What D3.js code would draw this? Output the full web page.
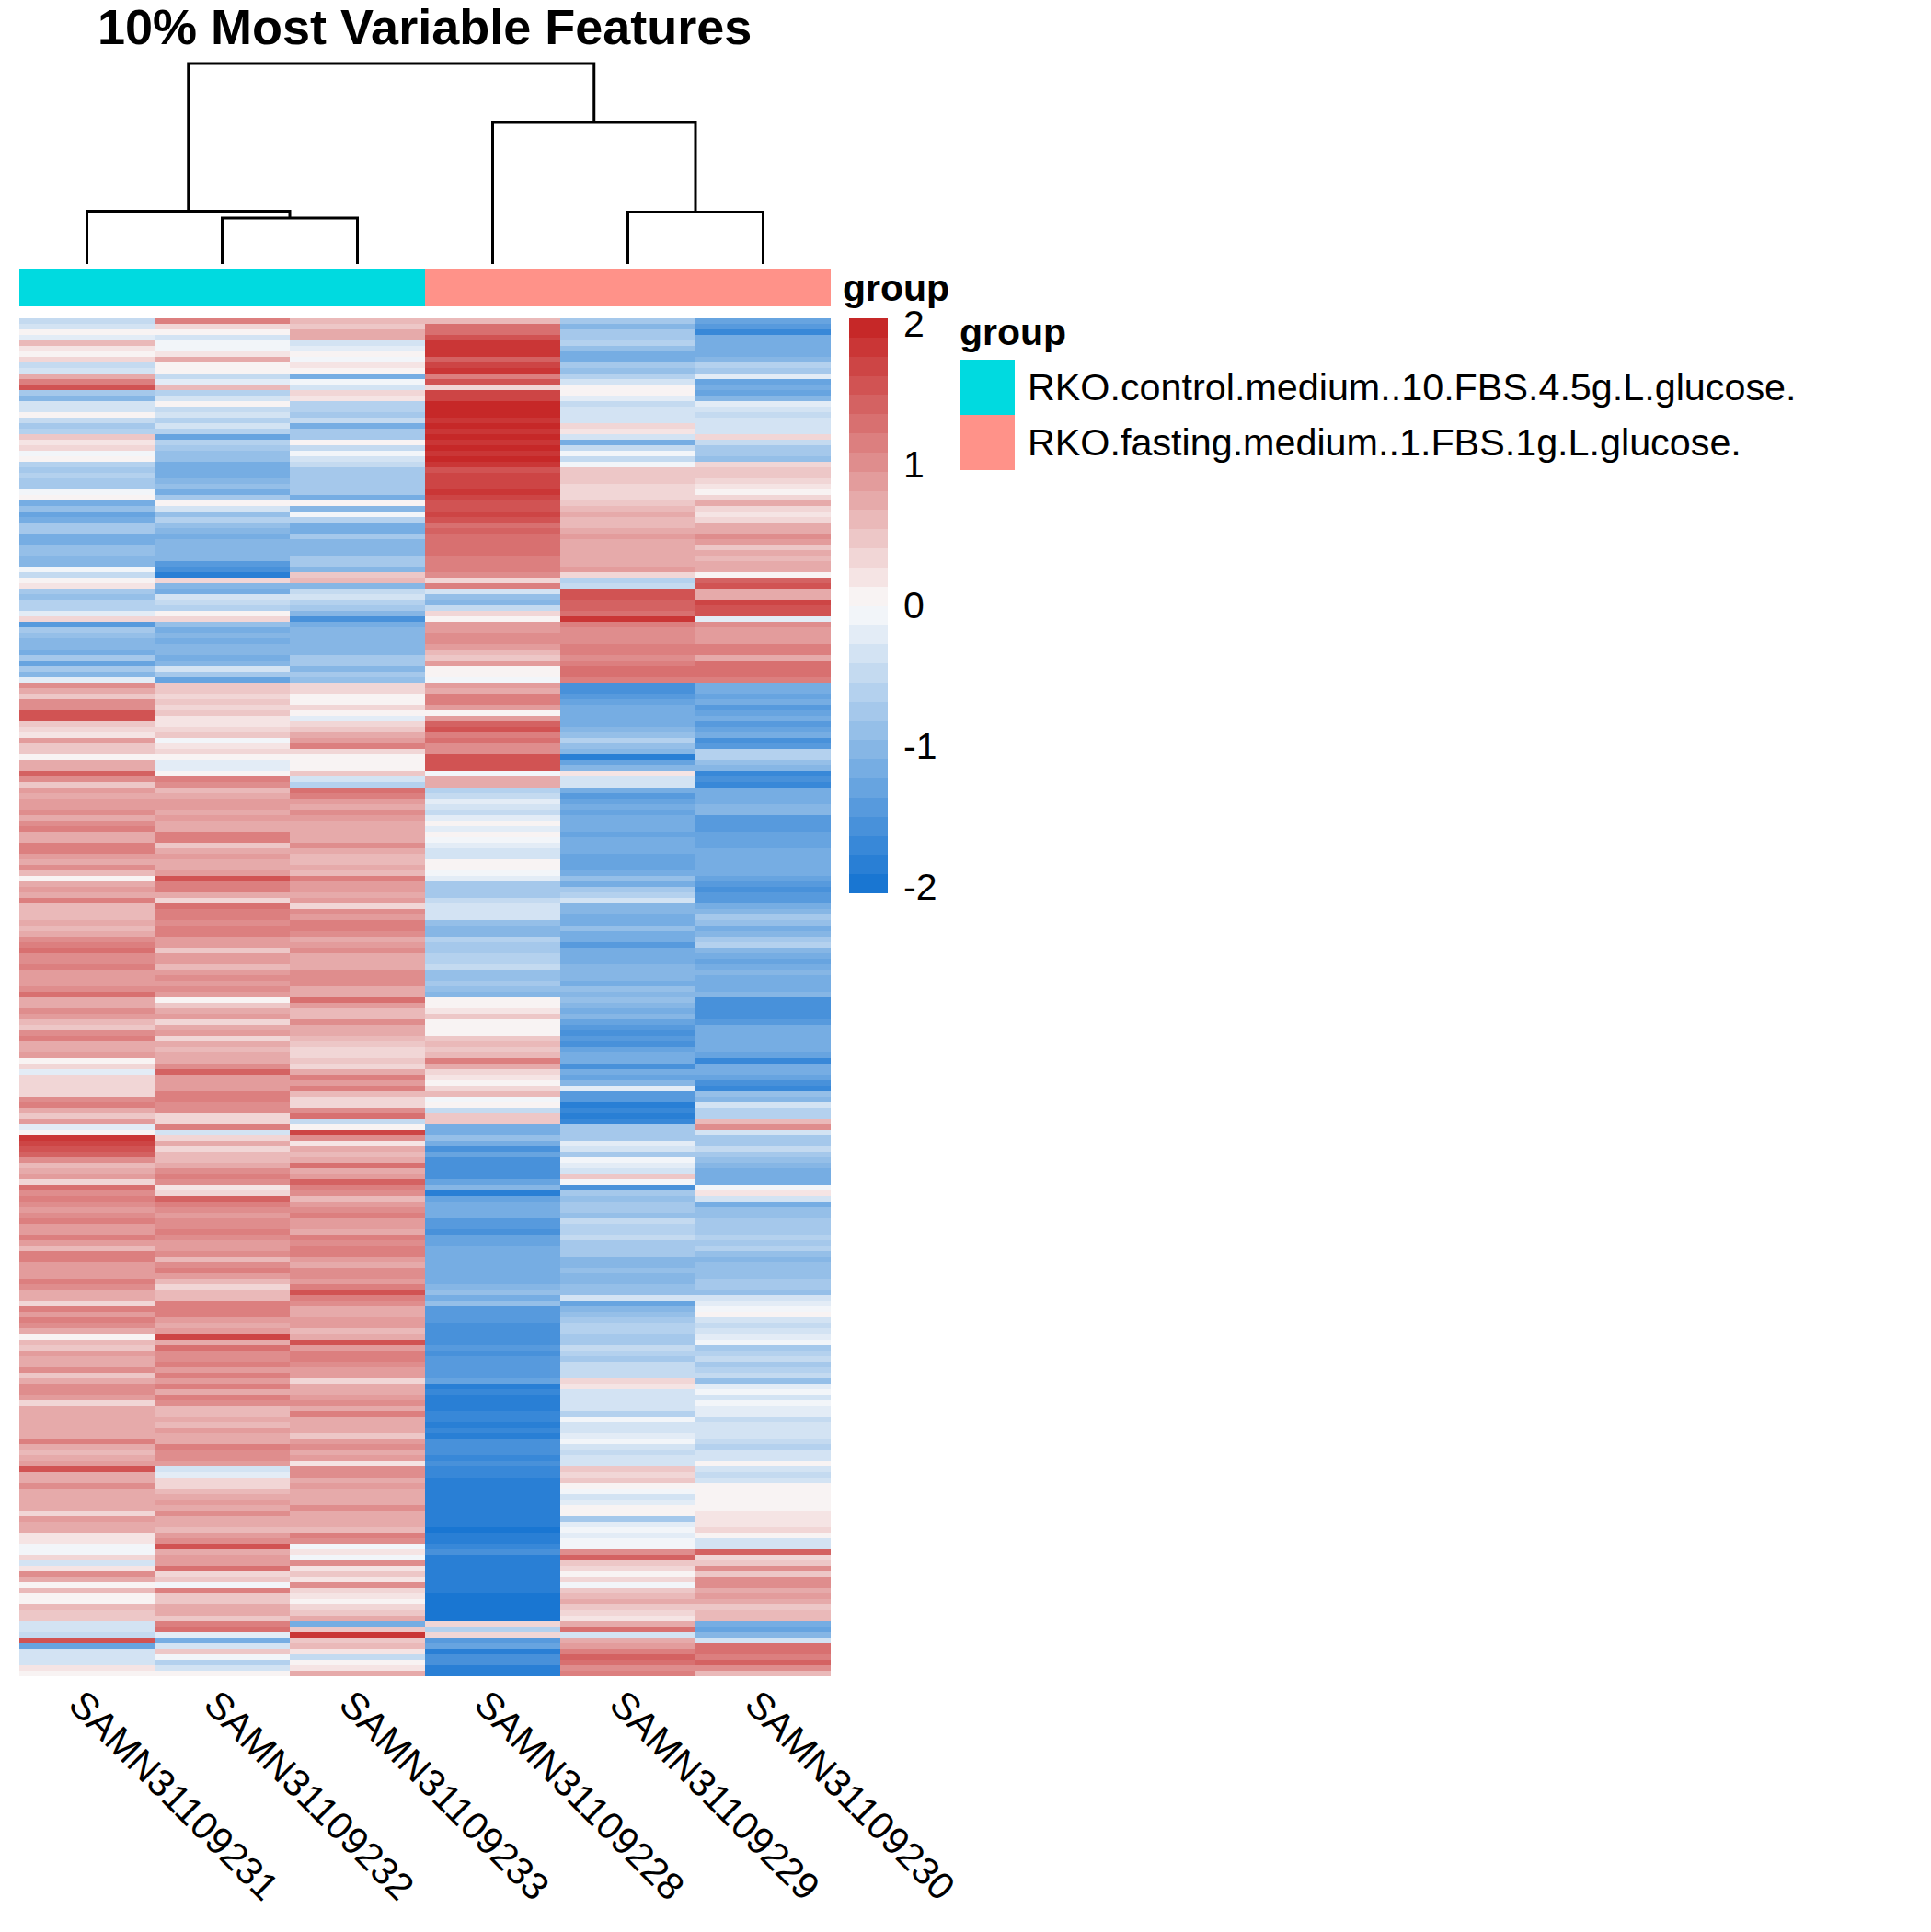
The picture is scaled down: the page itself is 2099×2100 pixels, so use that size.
<!DOCTYPE html>
<html>
<head>
<meta charset="utf-8">
<script src="https://cdn.jsdelivr.net/npm/d3@7"></script>
<style>
  body { margin: 0; background: #fff; }
  text { font-family: "Liberation Sans", Arial, sans-serif; fill: #000; }
</style>
</head>
<body>
<svg id="chart" width="2099" height="2100"></svg>
<script>
const sampleNames = ["SAMN31109231","SAMN31109232","SAMN31109233","SAMN31109228","SAMN31109229","SAMN31109230"];
const sampleGroups = [0,0,0,1,1,1];
const groupNames = ["RKO.control.medium..10.FBS.4.5g.L.glucose.","RKO.fasting.medium..1.FBS.1g.L.glucose."];
const groupColors = ["#00DAE0","#FF9289"];
const legendTicks = [-2,-1,0,1,2];
const colorStops = ["#1976D2","#FAFAFA","#C62828"];

// heights of the merges
const dendro = {h:218, children:[
  {h:57.5, children:[{leaf:0},{h:50, children:[{leaf:1},{leaf:2}]}]},
  {h:154, children:[{leaf:3},{h:56.5, children:[{leaf:4},{leaf:5}]}]}
]};

// one array per sample, top row to bottom row
const s231 = [
-0.5,-0.3,0,-0.2,0.6,0.2,0.1,0.3,-0.5,-0.3,
0.7,1.2,1.6,-0.8,-1.0,-0.4,-0.4,0.1,-0.5,-0.7,
-0.6,0.5,0.2,0.4,-0.1,0.1,-0.6,-0.7,-0.6,-0.7,
-0.8,-0.1,0.1,-1.1,-0.9,-1.3,-1.2,-0.8,-0.8,-1.2,
-1.1,-0.9,-0.9,-1.0,-1.0,-0.1,-0.5,0.1,0.2,-0.8,
-0.9,-0.6,-0.6,-0.2,0.3,-1.4,-0.8,-0.9,-1.0,-1.0,
-1.1,-0.8,-1.3,-0.8,-1.0,-0.2,1.0,0.7,0.5,
1.0,1.0,1.5,1.5,0.5,0.4,0.2,0.9,0.5,0.5,
0.1,0.7,0.8,1.4,1.0,0.5,0.9,0.8,0.9,0.9,
1.0,0.8,1.0,1.1,0.7,0.7,1.2,1.1,0.9,0.7,
1.0,0.6,0.1,0.8,0.9,
0.8,1.2,0.6,0.6,0.6,0.8,0.6,0.7,1.0,1.1,
1.3,1.0,1.0,1.1,0.9,0.9,0.9,1.0,1.3,0.7,
0.8,1.0,0.9,0.6,0.5,1.0,1.1,0.7,0.7,0.9,
0.1,0.4,-0.2,0.3,0.4,
0.3,0.3,1.0,1.1,0.7,0.5,0.9,-0.2,0,1.8,
1.7,1.5,1.4,1.0,0.6,0.7,0.9,0.4,1.3,1.0,
1.1,1.0,0.9,1.0,1.1,0.9,0.9,1.1,0.9,0.6,
1.1,1.2,0.9,0.9,0.9,
1.2,1.0,0.7,0.7,0.4,1.1,0.9,1.1,1.0,0.8,
0.1,0.6,0.5,0.9,0.7,0.7,1.0,0.5,0.8,1.0,
1.0,0.9,0.4,0.7,0.7,0.7,0.8,0.8,0.8,1.2,
0.8,0.6,0.7,0.9,1.6,
0.8,0.7,1.0,0.7,0.7,0.7,0.7,0.3,0.9,0.7,
0.7,0.2,0.2,-0.1,-0.1,0.3,-0.4,0.2,1.0,0.7,
0,0.6,0.1,0.1,0.6,0.5,0.5,-0.4,-0.3,-0.5,
1.5,-1.3,-0.4,-0.3,-0.3,0.2,0.1];
const s232 = [
1.2,0.4,0.1,-0.3,-0.1,-0.1,0.2,0.7,0.1,0.1,
-0.5,-0.2,0.6,-0.6,-0.3,0.1,-0.5,-0.4,-0.6,-0.3,
-0.6,-1.3,-0.6,-0.8,-0.9,-0.9,-1.1,-1.2,-1.2,-1.0,
-0.9,-1.2,-0.8,0.1,-0.3,-0.9,-0.6,-0.9,-1.0,-1.1,
-1.0,-1.0,-1.0,-1.0,-1.4,-1.5,-1.9,0.3,-1.0,-1.2,
-0.3,-0.5,-0.6,0.1,0.4,-0.9,-1.1,-1.0,-1.1,-1.0,
-1.0,-1.1,-1.0,-0.4,-0.7,-1.3,0.5,0.5,0.3,
0.5,0.3,0.5,0.2,0.2,0.3,0.5,-0.1,0.2,0.4,
0.1,-0.2,-0.2,0.1,1.2,1.0,0.6,0.8,0.9,0.9,
0.8,0.9,0.8,0.8,1.2,1.1,0.5,0.8,0.9,0.8,
0.8,0.9,1.5,1.2,1.1,
0.7,0.4,1.3,1.1,1.1,1.0,1.1,1.2,0.9,0.9,
0.5,0.9,0.9,0.6,0.9,1.0,0.9,1.0,0.9,0,
0.5,0.8,0.9,0.4,0.7,0.9,0.4,0.7,0.6,0.8,
0.8,1.0,1.4,0.9,0.9,
0.9,1.2,1.1,1.0,1.0,0.3,0.4,1.1,-0.4,0.3,
0.8,0.4,0.6,0.6,0.7,1.0,1.1,1.0,0.2,0.4,
1.4,1.1,1.0,0.9,1.0,1.0,1.1,1.0,0.9,0.9,
1.0,0.6,1.0,1.1,0.9,
0.6,0.4,0.6,0.6,1.1,1.1,1.2,0.9,0.7,0.9,
1.7,0.8,1.3,1.0,1.0,1.1,0.9,1.2,0.9,1.2,
0.8,1.1,1.0,0.6,0.6,0.8,0.6,0.9,0.7,0.8,
1.1,1.0,1.0,0.9,-0.3,
-0.2,0.3,0.4,0.6,0.8,0.9,0.7,1.0,0.7,0.7,
0.6,0.9,1.0,1.6,0.7,0.9,0.9,1.3,0.4,0.5,
-0.1,1.1,0.5,0.5,0.7,0.8,0.5,1.2,1.3,-0.2,
-1.2,-0.3,0.5,-0.1,-0.6,-0.3,0];
const s233 = [
0.6,0.5,0.8,0.8,-0.3,-0.2,0.1,-0.1,0.2,0,
-1.2,-0.1,-0.4,0.3,0.2,-0.6,-0.6,-0.8,-0.5,-1.2,
-0.8,-0.7,0.1,-0.5,-0.1,-0.3,-0.5,-0.8,-0.8,-0.7,
-0.8,-0.8,-1.2,0,-1.0,-0.1,-0.6,-1.2,-1.2,-0.8,
-1.0,-1.0,-1.0,-0.8,-0.7,-1.0,0.5,0.6,-1.0,-0.5,
-0.3,-0.6,-0.7,-1.0,-1.6,-1.1,-1.0,-1.0,-1.0,-1.0,
-1.0,-0.7,-0.7,-1.0,-0.8,-0.9,0.4,0.3,0.1,
0.1,0.4,0.1,-0.2,0.4,0.5,0.7,0.9,1.1,0.3,
0.1,0.1,0.1,0.5,-0.4,-0.6,1.3,1.2,0.9,0.8,
1.0,0.9,0.8,0.7,0.8,0.8,1.0,0.7,0.6,0.6,
0.8,0.6,1.2,0.9,0.9,
0.8,0.9,0.3,1.0,0.9,1.1,1.1,1.0,0.7,0.9,
1.0,0.7,0.8,0.8,1.0,1.0,1.0,0.7,0.7,1.3,
0.9,0.6,0.6,1.0,0.8,0.7,0.6,0.5,0.4,0.3,
0.5,0.3,0.7,1.1,0.9,
1.2,0.6,0.4,0.4,1.0,1.3,-0.5,0.1,1.7,1.0,
0.2,0.8,0.6,0.7,1.3,0.7,0.9,1.4,1.2,1.0,
0.6,0.9,1.0,1.1,0.9,0.9,0.8,1.1,1.0,1.2,
1.2,0.9,0.8,1.0,1.0,
0.9,1.2,1.6,1.1,1.0,0.7,0.8,0.9,0.9,0.6,
0.7,1.5,0.9,1.1,1.1,1.0,0.9,0.9,0.3,0.7,
0.7,0.9,1.0,0.8,1.1,0.7,0.8,0.8,0.5,0.9,
1.0,0.8,0.9,0.2,1.0,
1.0,0.8,0.9,0.7,0.7,0.7,1.0,0.8,0.7,0.8,
0.6,1.2,1.0,-0.1,0.2,-0.1,1.0,0.2,0.5,0.2,
1.0,0.4,0.2,0.1,0.4,0.5,0.7,-1.2,0.5,1.8,
0.5,0.6,0.2,-0.5,0,0.2,0.7];
const s228 = [
0.6,1.3,1.3,1.6,1.8,1.9,1.8,1.4,1.7,1.8,
1.2,1.6,0.4,1.7,1.7,2.0,2.0,2.0,1.9,2.0,
1.9,2.0,1.9,2.0,1.9,2.0,1.9,1.6,1.7,1.7,
1.7,1.9,1.7,1.6,1.6,1.7,1.5,1.3,1.4,1.3,
1.3,1.3,1.3,1.2,1.2,1.1,1.0,0.3,1.2,-0.3,
-0.9,-1.0,-0.5,0.3,0.1,0.9,0.9,1.0,1.0,0.9,
0.6,0.5,0.9,0.1,0,-0.1,0.9,0.8,1.1,
1.2,0.9,0.1,0.9,1.4,1.6,1.2,1.3,1.0,1.0,
1.6,1.5,1.6,-0.1,0.8,0.8,-0.6,-0.5,-0.2,-0.4,
-0.5,-0.2,0,-0.2,0,-0.1,-0.2,-0.4,-0.3,0.1,
0.1,-0.1,-0.2,-0.7,-0.8,
-0.8,-0.5,-0.4,-0.4,-0.4,-0.9,-1.0,-1.0,-0.6,-0.7,
-0.7,-0.6,-0.6,-0.5,-0.9,-0.9,-0.8,-0.9,-1.0,0.1,
0.1,0.2,0.5,0.1,0.1,0,0.5,0.6,0.5,0.6,
1.1,0.7,0.4,0.2,0.1,
0.3,0.6,-0.1,0,-0.5,0.5,0.5,-1.1,-1.1,-0.9,
-1.2,-1.5,-1.3,-1.5,-1.5,-1.5,-1.5,-1.3,-1.0,-1.8,
-1.3,-1.1,-1.2,-1.1,-1.4,-1.4,-1.5,-1.3,-1.3,-1.2,
-1.2,-1.2,-1.2,-1.2,-1.1,
-1.1,-1.0,-0.9,-1.1,-0.9,-1.4,-1.4,-1.4,-1.6,-1.5,
-1.5,-1.6,-1.4,-1.5,-1.4,-1.4,-1.4,-1.4,-1.3,-1.8,
-1.7,-1.8,-1.8,-1.8,-1.7,-1.7,-1.8,-1.7,-1.8,-1.6,
-1.5,-1.6,-1.7,-1.6,-1.7,
-1.7,-1.9,-1.9,-1.8,-1.8,-1.9,-1.8,-1.9,-1.8,-1.9,
-2.0,-1.8,-1.8,-1.7,-1.6,-1.9,-1.8,-1.9,-1.9,-1.9,
-1.9,-1.9,-2.0,-2.0,-2.0,-2.0,-2.0,0.3,-0.6,0.3,
-1.4,-1.3,-1.8,-1.5,-1.5,-1.9,-1.9];
const s229 = [
-0.8,-1.0,-0.7,-0.7,-0.6,-0.9,-1.1,-1.1,-0.8,-0.9,
-0.6,-0.4,0.1,0.1,-0.2,-0.5,-0.4,-0.3,-0.3,0.3,
0.2,-0.4,-1.1,-0.5,-0.1,-0.5,-0.1,0.5,0.5,0.5,
0.4,0.4,0.3,0.5,0.6,0.7,0.6,0.6,0.8,0.9,
0.8,0.7,0.7,0.8,0.8,0.9,0.3,-0.6,-0.5,1.6,
1.6,1.4,1.4,1.3,1.8,1.1,1.0,1.0,1.0,1.2,
1.1,1.0,1.2,1.3,1.3,1.1,-1.5,-1.6,-1.4,
-1.3,-1.1,-1.2,-1.2,-1.1,-1.0,-0.9,-0.6,-0.9,-1.0,
-1.8,-1.3,-1.0,0.2,-0.4,-0.4,-1.2,-1.4,-1.3,-1.2,
-1.3,-1.2,-1.1,-1.2,-1.3,-1.1,-1.2,-1.1,-1.3,-1.3,
-1.3,-1.1,-0.9,-1.1,-0.7,
-0.6,-0.3,-1.0,-1.0,-1.2,-1.2,-0.9,-1.1,-1.1,-1.4,
-1.2,-1.1,-1.1,-1.0,-1.0,-1.0,-1.1,-0.9,-1.0,-0.9,
-1.0,-1.1,-1.0,-1.3,-1.4,-1.5,-1.4,-1.5,-1.3,-1.2,
-1.1,-1.5,-1.2,-1.3,-1.0,
-0.2,-1.4,-1.4,-1.8,-1.7,-1.9,-1.7,-0.7,-0.8,-0.8,
-0.2,-0.3,-0.7,-0.1,-0.2,-0.3,0.5,-0.1,-1.5,-0.8,
-0.9,-0.7,-0.7,-0.9,-0.5,-0.6,-0.6,-0.5,-0.8,-0.8,
-0.8,-1.0,-1.0,-0.9,-1.0,
-1.0,-0.9,-0.9,-0.4,-1.3,-1.0,-0.9,-0.7,-0.6,-0.6,
-0.8,-0.7,-0.5,-0.6,-0.7,-0.5,-0.5,-0.5,0.3,0.2,
-0.4,-0.4,-0.3,-0.3,-0.6,-0.1,-0.3,-0.3,-0.2,-0.1,
-0.4,-0.5,-0.4,-0.4,0.5,
0.3,0.5,0.1,-0.1,-0.3,-0.2,0,0,-0.7,-0.2,
-0.1,-0.2,-0.1,-0.1,1.0,1.4,0.5,0.4,0,0.4,
-0.1,0.5,0.6,0.7,0.5,0.4,0.2,0.7,1.3,-0.3,
0.7,0.9,1.2,1.4,1.3,1.0,1.1];
const s230 = [
-1.3,-1.4,-1.7,-1.1,-1.1,-1.1,-1.1,-1.0,-0.6,-0.8,
-0.2,-1.3,-1.2,-1.3,-1.0,-0.2,-0.4,-0.5,-0.4,-0.4,
-0.3,0.3,-0.5,-0.7,-0.8,-0.9,0.3,0.5,0.5,0.3,
0.2,0,0.3,0.7,0.3,0.2,0.3,0.7,0.7,1.0,
0.9,0.5,0.8,0.6,0.8,0.8,0.1,1.4,1.6,0.7,
0.7,1.7,1.5,1.5,-0.2,1.0,0.9,0.9,0.9,1.1,
1.1,0.8,1.3,1.3,1.3,1.2,-1.1,-1.2,-1.3,
-1.2,-1.4,-1.3,-1.1,-1.4,-1.3,-1.1,-1.6,-1.4,-0.6,
-0.6,-0.9,-1.0,-1.7,-1.6,-1.7,-1.1,-1.1,-1.1,-1.0,
-1.0,-1.4,-1.4,-1.4,-1.3,-1.3,-1.3,-1.1,-1.1,-1.2,
-1.2,-1.2,-1.3,-1.4,-1.5,
-1.4,-1.4,-1.1,-1.0,-0.7,-0.9,-1.1,-1.0,-0.8,-0.6,
-1.0,-1.2,-1.3,-1.1,-1.0,-1.1,-1.2,-1.1,-1.0,-1.6,
-1.6,-1.5,-1.6,-1.4,-1.2,-1.2,-1.2,-1.1,-1.2,-1.3,
-1.7,-1.2,-1.2,-1.3,-1.6,
-1.7,-0.9,-1.0,-0.3,-0.6,-0.6,0.6,1.0,-0.3,-0.7,
-0.7,-0.5,-0.8,-0.9,-1.0,-1.1,-1.1,-1.1,-0.1,0.2,
-0.4,-1.1,-0.9,-0.9,-0.8,-0.8,-0.7,-0.6,-0.7,-0.6,
-0.9,-1.0,-0.9,-0.9,-0.9,
-0.7,-0.8,-0.9,-0.3,-0.2,-0.1,0,-0.4,-0.5,-0.4,
-0.2,-0.1,-0.7,-0.6,-0.5,-0.7,-0.6,-0.5,-0.9,-0.2,
-0.1,-0.3,-0.1,-0.2,-0.2,-0.5,-0.3,-0.3,-0.4,-0.5,
-0.6,-0.4,-0.4,0,-0.4,
-0.5,-0.3,0.1,0,0,0,0,0.2,0.2,0.2,
0.3,0.1,-0.4,-0.3,1.4,0.4,0.5,1.0,0.5,1.0,
1.0,0.8,0.9,0.7,0.5,0.6,0.6,-1.2,-1.3,-1.0,
-0.3,1.3,1.3,1.1,1.4,1.0,0.6];
const matrix = [s231,s232,s233,s228,s229,s230];

const svg = d3.select("#chart");
const rowCount = s231.length;

// layout
const heat = {left: 21, right: 903, top: 346, bottom: 1822};
const xScale = d3.scaleBand().domain(d3.range(sampleNames.length)).range([heat.left, heat.right]);
const yScale = d3.scaleBand().domain(d3.range(rowCount)).range([heat.top, heat.bottom]);
const palette = d3.quantize(d3.piecewise(d3.interpolateRgb, colorStops), 30);
const colorScale = d3.scaleQuantize().domain([-2.04, 2.04]).range(palette);

// title
svg.append("text")
    .attr("x", 106)
    .attr("y", 48)
    .attr("font-size", 54)
    .attr("font-weight", "bold")
    .text("10% Most Variable Features");

// dendrogram
const dendroY = d3.scaleLinear().domain([0, dendro.h]).range([287, 69]);
const root = d3.hierarchy(dendro);
root.eachAfter(n => {
    n.px = n.children ? d3.mean(n.children, c => c.px) : xScale(n.data.leaf) + xScale.bandwidth() / 2;
    n.py = dendroY(n.data.h || 0);
});
svg.append("g")
    .selectAll("path")
    .data(root.descendants().filter(n => n.children))
    .join("path")
    .attr("fill", "none")
    .attr("stroke", "#000")
    .attr("stroke-width", 3)
    .attr("d", n => {
        const [a, b] = n.children;
        return `M${a.px},${a.py}V${n.py}H${b.px}V${b.py}`;
    });

// annotation bar
svg.append("g")
    .selectAll("rect")
    .data(sampleGroups)
    .join("rect")
    .attr("x", (d, i) => xScale(i))
    .attr("y", 292)
    .attr("width", xScale.bandwidth())
    .attr("height", 41)
    .attr("fill", d => groupColors[d]);

svg.append("text")
    .attr("x", 916)
    .attr("y", 327)
    .attr("font-size", 41)
    .attr("font-weight", "bold")
    .text("group");

// heatmap cells
const columns = svg.append("g")
    .attr("shape-rendering", "crispEdges")
    .selectAll("g")
    .data(matrix)
    .join("g")
    .attr("transform", (d, i) => `translate(${xScale(i)},0)`);

columns.selectAll("rect")
    .data(d => d)
    .join("rect")
    .attr("y", (d, i) => yScale(i))
    .attr("width", xScale.bandwidth())
    .attr("height", yScale.bandwidth())
    .attr("fill", d => colorScale(d));

// sample labels
svg.append("g")
    .selectAll("text")
    .data(sampleNames)
    .join("text")
    .attr("transform", (d, i) => `translate(${xScale(i) + xScale.bandwidth() / 2 - 22},1855) rotate(45)`)
    .attr("font-size", 41.5)
    .text(d => d);

// colour bar
const barY = d3.scaleBand().domain(d3.range(palette.length)).range([971, 346]);
svg.append("g")
    .attr("shape-rendering", "crispEdges")
    .selectAll("rect")
    .data(palette)
    .join("rect")
    .attr("x", 923)
    .attr("y", (d, i) => barY(i))
    .attr("width", 42)
    .attr("height", barY.bandwidth())
    .attr("fill", d => d);

const barScale = d3.scaleLinear().domain([-2.04, 2.04]).range([971, 346]);
const barAxis = svg.append("g")
    .attr("transform", "translate(965,0)")
    .call(d3.axisRight(barScale).tickValues(legendTicks).tickFormat(d => d).tickSize(0).tickPadding(17));
barAxis.select(".domain").remove();
barAxis.selectAll("text")
    .attr("font-size", 41)
    .attr("font-family", "Liberation Sans");

// group legend
svg.append("text")
    .attr("x", 1043)
    .attr("y", 375)
    .attr("font-size", 41)
    .attr("font-weight", "bold")
    .text("group");

const legendY = d3.scaleBand().domain(d3.range(groupNames.length)).range([391, 511]);
const legendRows = svg.append("g")
    .selectAll("g")
    .data(groupNames)
    .join("g")
    .attr("transform", (d, i) => `translate(1043,${legendY(i)})`);

legendRows.append("rect")
    .attr("width", 60)
    .attr("height", legendY.bandwidth())
    .attr("fill", (d, i) => groupColors[i]);

legendRows.append("text")
    .attr("x", 74)
    .attr("y", legendY.bandwidth() / 2 + 14)
    .attr("font-size", 41.3)
    .text(d => d);
</script>
</body>
</html>
